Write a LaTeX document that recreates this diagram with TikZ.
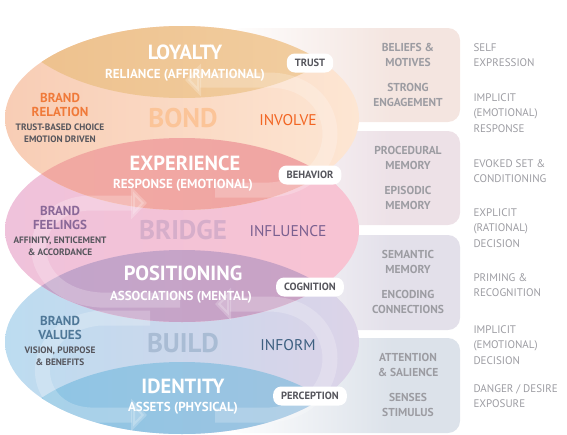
\documentclass[tikz,border=0pt]{standalone}
\usepackage{fontspec}
\setmainfont{PT Sans}
\usetikzlibrary{fadings,arrows.meta}

\definecolor{bondL}{HTML}{F8CDB5}
\definecolor{bondR}{HTML}{FDE6D3}
\definecolor{loyalL}{HTML}{EDC08C}
\definecolor{loyalR}{HTML}{F2CFA2}
\definecolor{expL}{HTML}{F1AAA2}
\definecolor{expR}{HTML}{F0A4A4}
\definecolor{bridgeL}{HTML}{EFC2DB}
\definecolor{bridgeR}{HTML}{F8C3D2}
\definecolor{posL}{HTML}{C1A5CB}
\definecolor{posR}{HTML}{CBA2C4}
\definecolor{buildL}{HTML}{BCDCF0}
\definecolor{buildR}{HTML}{DCD3E8}
\definecolor{identL}{HTML}{8DC6E5}
\definecolor{identR}{HTML}{A0C3E0}
\definecolor{panelA}{HTML}{F4E5E0}
\definecolor{panelB}{HTML}{EDE1E7}
\definecolor{panelC}{HTML}{E3E0EA}
\definecolor{panelD}{HTML}{DCE2EA}
\definecolor{greytxt}{HTML}{9C9CA2}
\definecolor{darktxt}{HTML}{55555C}

\tikzfading[name=fade right, left color=transparent!0, right color=transparent!100]

\tikzset{
  title/.style={text=white, font=\bfseries\fontsize{20.5}{22}\selectfont},
  subtitle/.style={text=white, font=\bfseries\fontsize{13}{15}\selectfont},
  ghost/.style={font=\bfseries\fontsize{27}{30}\selectfont},
  verb/.style={font=\fontsize{15.5}{18}\selectfont},
  brand/.style={align=center, font=\bfseries\fontsize{13}{14.5}\selectfont},
  brandsub/.style={align=center, text=darktxt, font=\bfseries\fontsize{9.3}{12}\selectfont},
  pill/.style={fill=white, rounded corners=8pt, minimum height=19pt, inner xsep=8pt,
    text=darktxt, font=\bfseries\fontsize{10.5}{12}\selectfont},
  paneltxt/.style={align=center, text=greytxt, font=\bfseries\fontsize{11.5}{14.5}\selectfont},
  sidetxt/.style={align=left, anchor=west, text=greytxt, font=\fontsize{11}{15.5}\selectfont},
  swoosh/.style={white, opacity=.22, line width=15pt,
    -{Triangle[length=16pt, width=32pt]}}
}

\begin{document}
\begin{tikzpicture}[x=1pt, y=-1pt]
  \useasboundingbox (0,0) rectangle (567,434);

  % panels on the right
  \fill[panelA, rounded corners=12pt] (230,28) rectangle (460,122);
  \fill[panelB, rounded corners=12pt] (230,131) rectangle (460,225);
  \fill[panelC, rounded corners=12pt] (230,235) rectangle (460,330);
  \fill[panelD, rounded corners=12pt] (230,338) rectangle (460,433);
  \fill[white, path fading=fade right] (225,20) rectangle (395,434);

  % big ellipses
  \shade[left color=buildL, right color=buildR] (182,342) ellipse [x radius=177pt, y radius=92pt];
  \shade[left color=bridgeL, right color=bridgeR] (182,230) ellipse [x radius=177pt, y radius=92pt];
  \shade[left color=bondL, right color=bondR] (182,118) ellipse [x radius=177pt, y radius=92pt];

  % bands where the ellipses overlap
  \begin{scope}
    \clip (182,118) ellipse [x radius=177pt, y radius=92pt];
    \shade[left color=loyalL, right color=loyalR] (182,6) ellipse [x radius=177pt, y radius=92pt];
  \end{scope}
  \begin{scope}
    \clip (182,118) ellipse [x radius=177pt, y radius=92pt];
    \shade[left color=expL, right color=expR] (182,230) ellipse [x radius=177pt, y radius=92pt];
  \end{scope}
  \begin{scope}
    \clip (182,230) ellipse [x radius=177pt, y radius=92pt];
    \shade[left color=posL, right color=posR] (182,342) ellipse [x radius=177pt, y radius=92pt];
  \end{scope}
  \begin{scope}
    \clip (182,342) ellipse [x radius=177pt, y radius=92pt];
    \shade[left color=identL, right color=identR] (182,454) ellipse [x radius=177pt, y radius=92pt];
  \end{scope}

  % swooshes
  \draw[swoosh] (215,190) -- (270,190) .. controls (350,185) and (350,82) .. (270,80) -- (185,80);
  \draw[swoosh] (180,300) -- (100,300) .. controls (20,295) and (20,205) .. (90,203) -- (147,203);
  \draw[swoosh] (215,415) -- (270,415) .. controls (350,410) and (350,306) .. (270,304) -- (215,304);
  \draw[swoosh] (150,318) -- (100,318) .. controls (25,325) and (25,412) .. (90,415) -- (147,415);

  % level texts
  \node[title] (loyalty) at (185,52) {LOYALTY};
  \node[subtitle] (reliance) at (185,75) {RELIANCE (AFFIRMATIONAL)};
  \node[ghost, text=bondL!70!orange!80!white] (bond) at (183,118) {BOND};
  \node[verb, text={rgb,255:red,242;green,101;blue,34}] (involve) at (288,120) {INVOLVE};
  \node[title] (experience) at (185,163) {EXPERIENCE};
  \node[subtitle] (response) at (183,185) {RESPONSE (EMOTIONAL)};
  \node[ghost, text={rgb,255:red,214;green,174;blue,202}] (bridge) at (183,230) {BRIDGE};
  \node[verb, text={rgb,255:red,122;green,96;blue,144}] (influence) at (288,231) {INFLUENCE};
  \node[title] (positioning) at (183,273) {POSITIONING};
  \node[subtitle] (associations) at (181,297) {ASSOCIATIONS (MENTAL)};
  \node[ghost, text={rgb,255:red,169;green,188;blue,212}] (build) at (183,343) {BUILD};
  \node[verb, text={rgb,255:red,61;green,95;blue,128}] (inform) at (288,345) {INFORM};
  \node[title] (identity) at (183,386) {IDENTITY};
  \node[subtitle] (assets) at (183,408) {ASSETS (PHYSICAL)};

  % brand texts on the left
  \node[brand, text={rgb,255:red,240;green,122;blue,58}] (relation) at (60,105) {BRAND\\RELATION};
  \node[brandsub] (trustbased) at (60,133) {TRUST-BASED CHOICE\\EMOTION DRIVEN};
  \node[brand, text={rgb,255:red,138;green,104;blue,152}] (feelings) at (60,218) {BRAND\\FEELINGS};
  \node[brandsub] (affinity) at (60,246) {AFFINITY, ENTICEMENT\\\& ACCORDANCE};
  \node[brand, text={rgb,255:red,79;green,120;blue,152}] (values) at (60,328) {BRAND\\VALUES};
  \node[brandsub] (vision) at (60,356) {VISION, PURPOSE\\\& BENEFITS};

  % pills
  \node[pill] (trust) at (310,63) {TRUST};
  \node[pill] (behavior) at (310,175) {BEHAVIOR};
  \node[pill] (cognition) at (310,287) {COGNITION};
  \node[pill] (perception) at (310,396) {PERCEPTION};

  % panel texts
  \node[paneltxt] (beliefs) at (408,55) {BELIEFS \&\\MOTIVES};
  \node[paneltxt] (strong) at (408,95) {STRONG\\ENGAGEMENT};
  \node[paneltxt] (procedural) at (408,158) {PROCEDURAL\\MEMORY};
  \node[paneltxt] (episodic) at (408,198) {EPISODIC\\MEMORY};
  \node[paneltxt] (semantic) at (408,262) {SEMANTIC\\MEMORY};
  \node[paneltxt] (encoding) at (408,302) {ENCODING\\CONNECTIONS};
  \node[paneltxt] (attention) at (408,365) {ATTENTION\\\& SALIENCE};
  \node[paneltxt] (senses) at (408,405) {SENSES\\STIMULUS};

  % side texts
  \node[sidetxt] (self) at (470,55) {SELF\\EXPRESSION};
  \node[sidetxt] (implicitA) at (470,113) {IMPLICIT\\(EMOTIONAL)\\RESPONSE};
  \node[sidetxt] (evoked) at (470,171) {EVOKED SET \&\\CONDITIONING};
  \node[sidetxt] (explicit) at (470,228) {EXPLICIT\\(RATIONAL)\\DECISION};
  \node[sidetxt] (priming) at (470,285) {PRIMING \&\\RECOGNITION};
  \node[sidetxt] (implicitB) at (470,345) {IMPLICIT\\(EMOTIONAL)\\DECISION};
  \node[sidetxt] (danger) at (470,396) {DANGER / DESIRE\\EXPOSURE};
\end{tikzpicture}
\end{document}
